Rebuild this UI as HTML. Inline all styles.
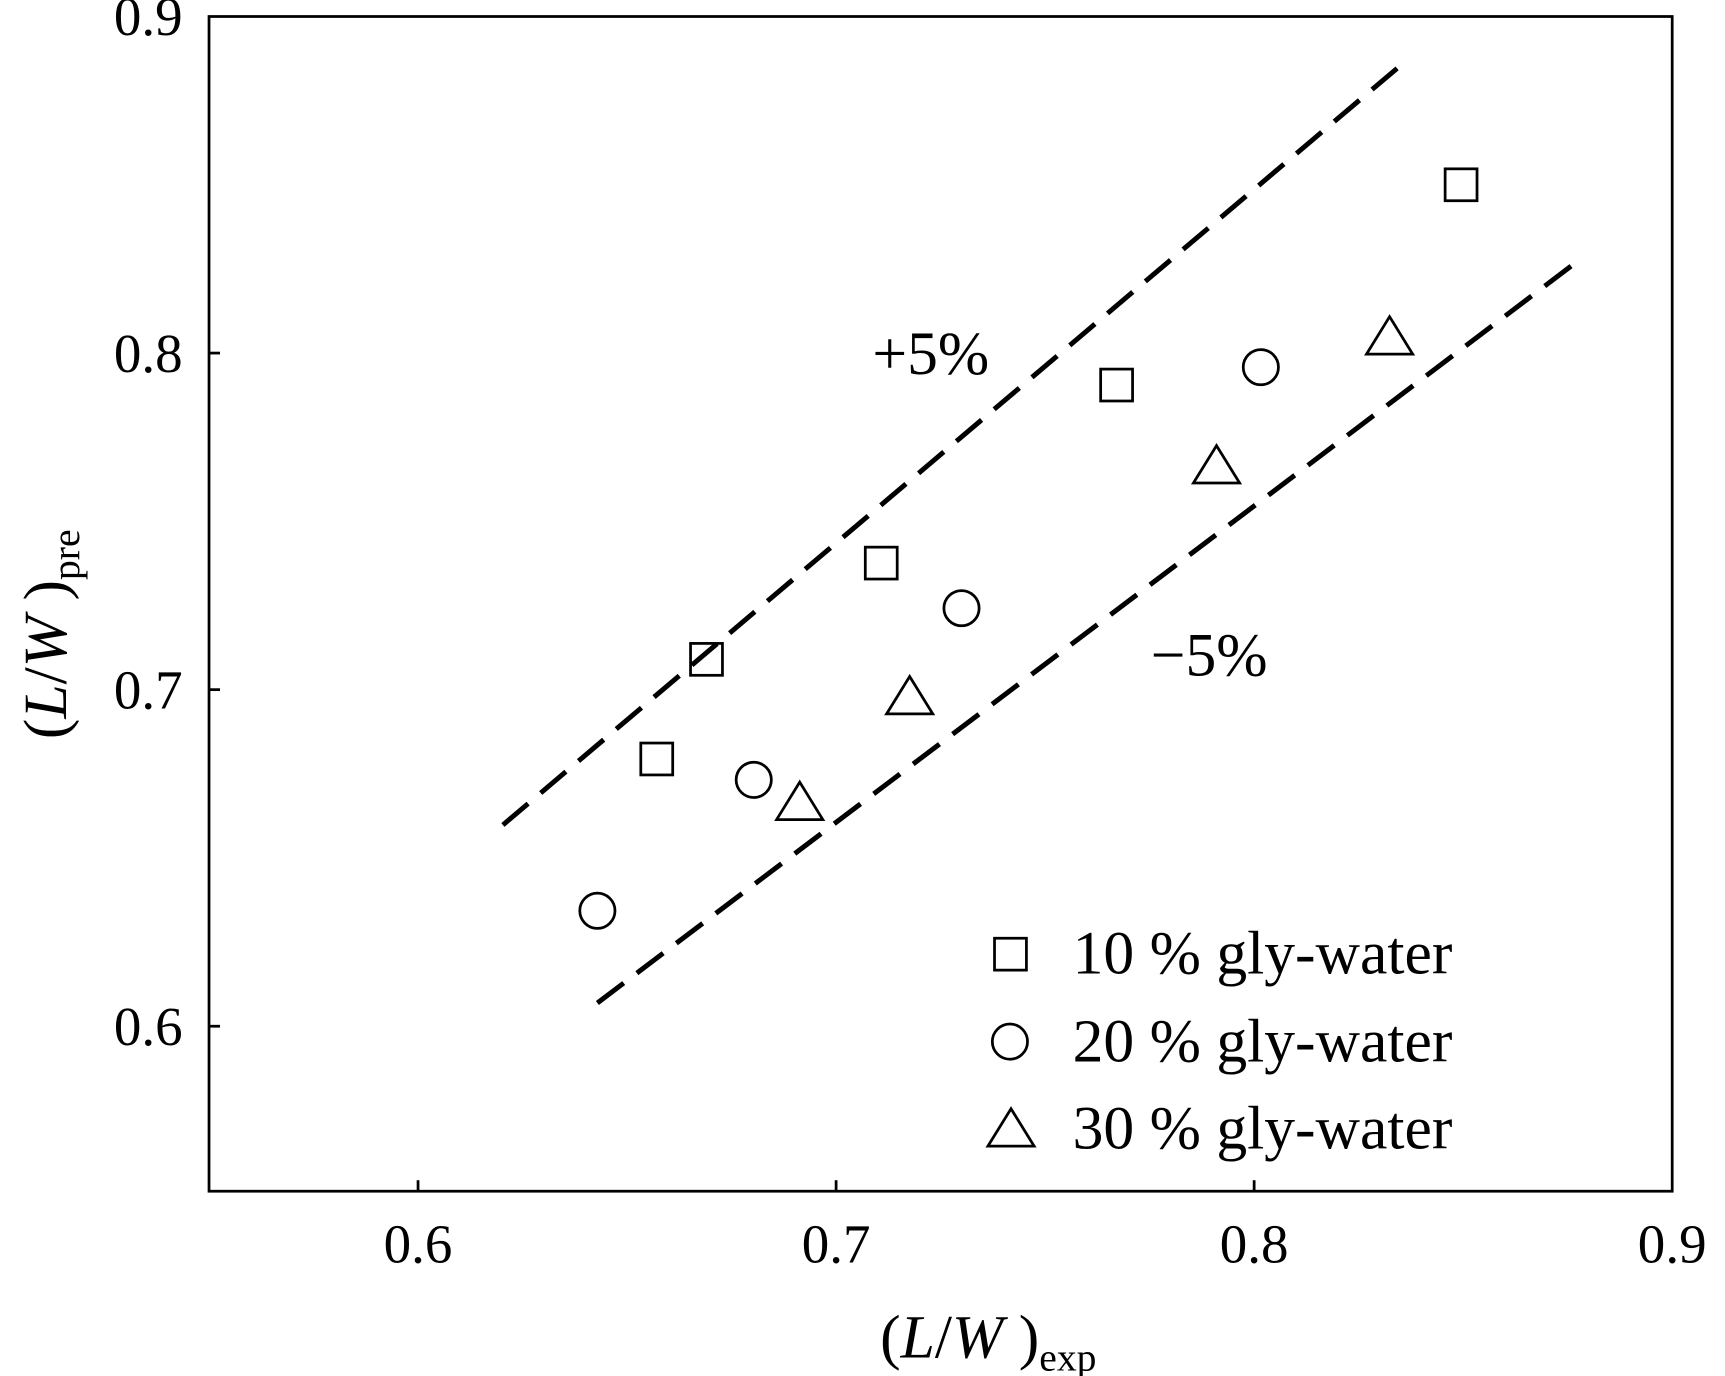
<!DOCTYPE html>
<html><head><meta charset="utf-8"><style>
html,body{margin:0;padding:0;background:#fff;}
svg{display:block;font-family:"Liberation Serif",serif;}
</style></head><body>
<svg id="chart" width="1725" height="1376" viewBox="0 0 1568 1251" preserveAspectRatio="none" xmlns="http://www.w3.org/2000/svg">
<rect x="0" y="0" width="1568" height="1251" fill="#fff"/>
<rect x="190" y="15" width="1330" height="1068" fill="none" stroke="#000" stroke-width="2.5"/>
<g id="ticks"></g>
<g id="lines"></g>
<g id="marks"></g>
<text x="793" y="340" font-size="56">+5%</text>
<text x="1046" y="614" font-size="56">−5%</text>
<g>
<rect x="904" y="853" width="29" height="29" fill="none" stroke="#000" stroke-width="2.5"/>
<text x="975" y="885" font-size="56">10 % gly-water</text>
<circle cx="918" cy="947" r="16" fill="none" stroke="#000" stroke-width="2.5"/>
<text x="975" y="965" font-size="56">20 % gly-water</text>
<polygon points="898,1042 940,1042 919,1008" fill="none" stroke="#000" stroke-width="2.5"/>
<text x="975" y="1044" font-size="56">30 % gly-water</text>
</g>
<text x="800" y="1234" font-size="56">(<tspan font-style="italic">L</tspan>/<tspan font-style="italic">W</tspan> )<tspan font-size="36" dy="12">exp</tspan></text>
<text transform="translate(60,672) rotate(-90)" font-size="56">(<tspan font-style="italic">L</tspan>/<tspan font-style="italic">W</tspan> )<tspan font-size="36" dy="12">pre</tspan></text>
</svg>
<script>
const xTicks=[0.6,0.7,0.8,0.9];
const xTickLabels=["0.6","0.7","0.8","0.9"];
const yTicks=[0.6,0.7,0.8,0.9];
const yTickLabels=["0.6","0.7","0.8","0.9"];
const sq_x=[0.669,0.6571,0.7108,0.7671,0.8495];
const sq_y=[0.709,0.6794,0.7376,0.7905,0.85];
const ci_x=[0.6429,0.6803,0.73,0.8016];
const ci_y=[0.6343,0.6732,0.7242,0.7958];
const tr_x=[0.6913,0.7176,0.791,0.8324];
const tr_y=[0.6663,0.6977,0.7663,0.8046];
const upper_x=[0.6203,0.8342];
const upper_y=[0.6598,0.8846];
const lower_x=[0.6429,0.8779];
const lower_y=[0.6069,0.8278];
const NS="http://www.w3.org/2000/svg";
function X(v){return 190+(v-0.55)*3800;}
function Y(v){return 15+(0.9-v)*3060;}
function mk(tag,attrs,parent){const e=document.createElementNS(NS,tag);for(const k in attrs)e.setAttribute(k,attrs[k]);document.getElementById(parent).appendChild(e);return e;}
xTicks.forEach((t,i)=>{
  if(t<0.9){const l=mk('line',{x1:X(t),x2:X(t),y1:1083,y2:1073,stroke:'#000','stroke-width':2.5},'ticks');
  
  }
  const tx=mk('text',{x:X(t),y:1148,'font-size':50,'text-anchor':'middle'},'ticks');tx.textContent=xTickLabels[i];
  
  
});
yTicks.forEach((t,i)=>{
  if(t<0.9){const l=mk('line',{x1:190,x2:200,y1:Y(t),y2:Y(t),stroke:'#000','stroke-width':2.5},'ticks');
  
  }
  const tx=mk('text',{x:166,y:Y(t)+17,'font-size':50,'text-anchor':'end'},'ticks');tx.textContent=yTickLabels[i];
  
  
});
const up=mk('line',{x1:X(upper_x[0]),y1:Y(upper_y[0]),x2:X(upper_x[1]),y2:Y(upper_y[1]),stroke:'#000','stroke-width':4.5,'stroke-dasharray':'30,15'},'lines');


const lo=mk('line',{x1:X(lower_x[0]),y1:Y(lower_y[0]),x2:X(lower_x[1]),y2:Y(lower_y[1]),stroke:'#000','stroke-width':4.5,'stroke-dasharray':'30,15'},'lines');


sq_x.forEach((v,i)=>{const cx=X(v),cy=Y(sq_y[i]);
  const e=mk('rect',{x:cx-14.5,y:cy-14.5,width:29,height:29,fill:'none',stroke:'#000','stroke-width':2.5},'marks');
  
  });
ci_x.forEach((v,i)=>{const e=mk('circle',{cx:X(v),cy:Y(ci_y[i]),r:16,fill:'none',stroke:'#000','stroke-width':2.5},'marks');
  
  });
tr_x.forEach((v,i)=>{const cx=X(v),cy=Y(tr_y[i]);
  const e=mk('polygon',{points:`${cx-21},${cy+15} ${cx+21},${cy+15} ${cx},${cy-19}`,fill:'none',stroke:'#000','stroke-width':2.5},'marks');
  
  });
</script>
</body></html>
